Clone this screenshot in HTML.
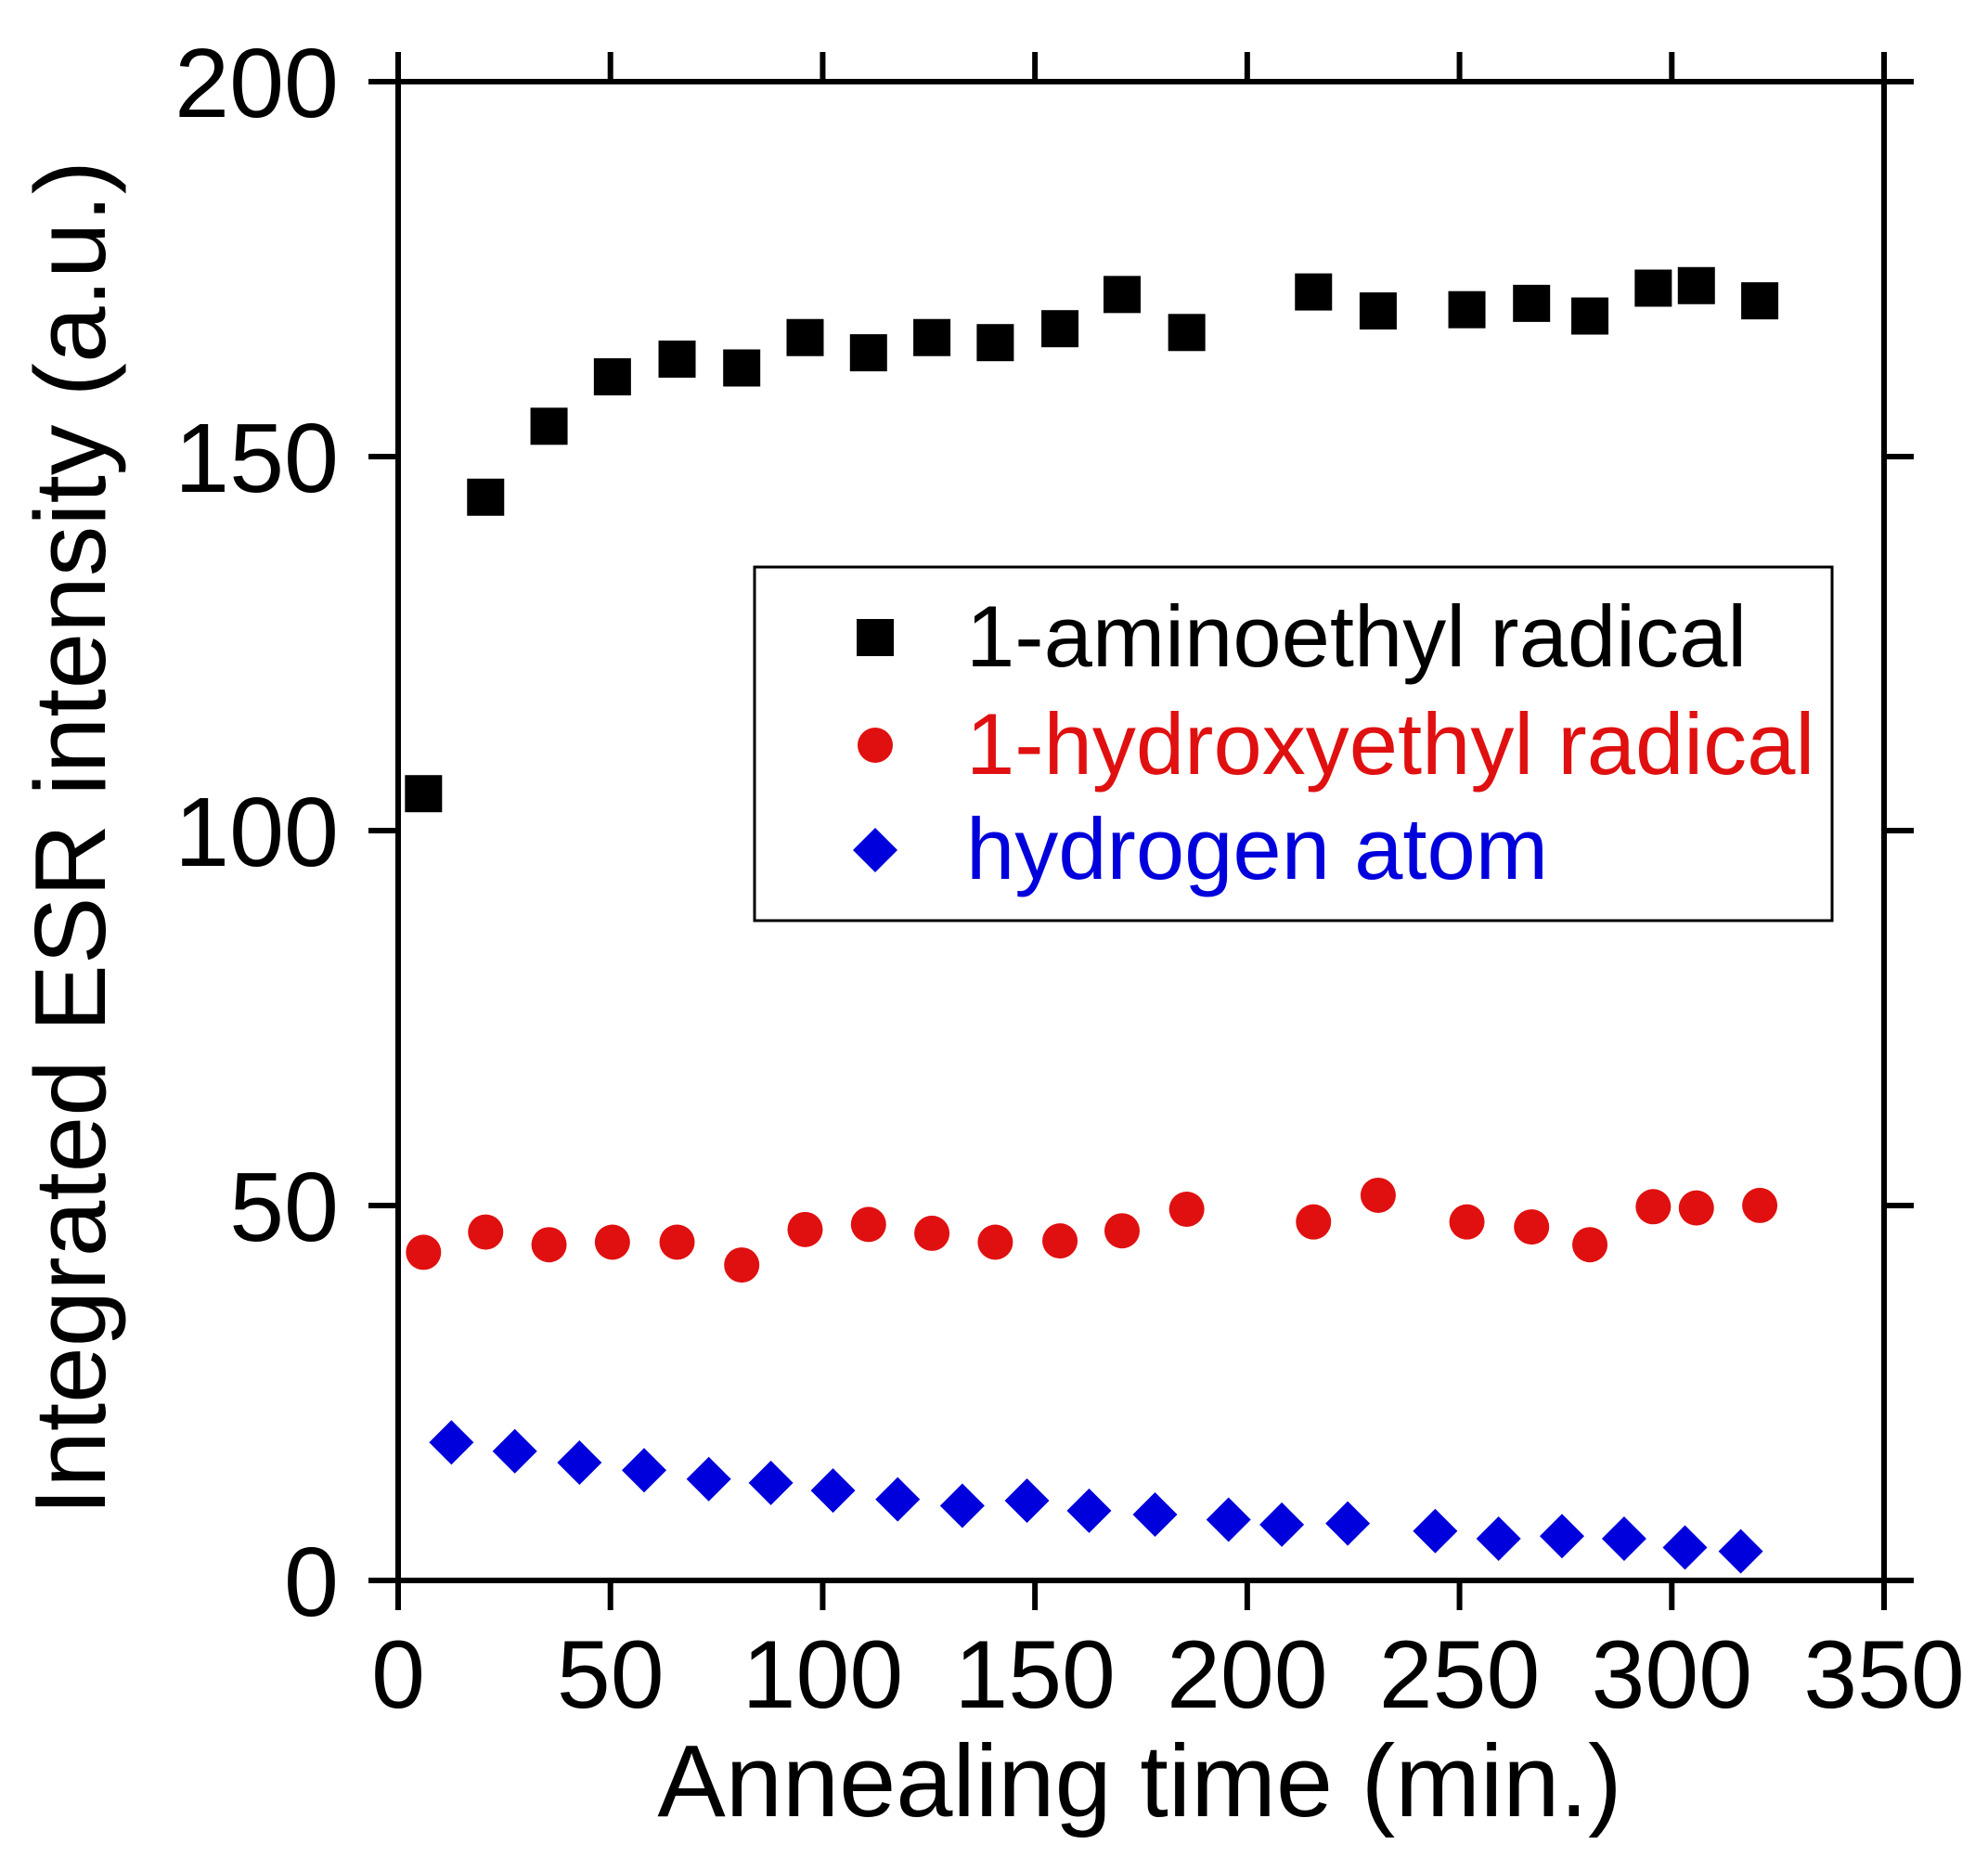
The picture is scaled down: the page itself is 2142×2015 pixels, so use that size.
<!DOCTYPE html>
<html><head><meta charset="utf-8"><style>html,body{margin:0;padding:0;background:#fff}svg{display:block}text{font-family:"Liberation Sans",Arial,sans-serif}</style></head>
<body>
<svg id="s" width="2142" height="2015" viewBox="0 0 2142 2015" xmlns="http://www.w3.org/2000/svg">
<rect width="2142" height="2015" fill="#fff"/>
<g stroke="#000" stroke-width="6" fill="none">
<rect x="429" y="88" width="1601" height="1615"/>
<line x1="397" y1="1703" x2="429" y2="1703"/><line x1="397" y1="1299" x2="429" y2="1299"/><line x1="397" y1="895" x2="429" y2="895"/><line x1="397" y1="492" x2="429" y2="492"/><line x1="397" y1="88" x2="429" y2="88"/>
<line x1="2030" y1="1703" x2="2062" y2="1703"/><line x1="2030" y1="1299" x2="2062" y2="1299"/><line x1="2030" y1="895" x2="2062" y2="895"/><line x1="2030" y1="492" x2="2062" y2="492"/><line x1="2030" y1="88" x2="2062" y2="88"/>
</g>
<g id="xt" stroke="#000" stroke-width="6"></g>
<g font-size="106" text-anchor="end" fill="#000">
<text x="365" y="1741">0</text><text x="365" y="1337">50</text><text x="365" y="933">100</text><text x="365" y="530">150</text><text x="365" y="126">200</text>
</g>
<g id="xl" font-size="104" text-anchor="middle" fill="#000"></g>
<text x="1228" y="1957" font-size="110" text-anchor="middle">Annealing time (min.)</text>
<text transform="translate(113,903) rotate(-90)" font-size="109" text-anchor="middle">Integrated ESR intensity (a.u.)</text>
<g id="pts"></g>
<rect x="813" y="611" width="1161" height="381" fill="#fff" stroke="#000" stroke-width="3"/>
<rect x="923" y="667" width="40" height="40" fill="#000"/>
<circle cx="943" cy="803" r="19" fill="#e01010"/>
<polygon points="943,892 967,916 943,940 919,916" fill="#0000dd"/>
<text x="1041" y="718" font-size="94" fill="#000">1-aminoethyl radical</text>
<text x="1041" y="834" font-size="94" fill="#e01010">1-hydroxyethyl radical</text>
<text x="1041" y="947" font-size="94" fill="#0000dd">hydrogen atom</text>
</svg>
<script>
var NS="http://www.w3.org/2000/svg";
function el(t,a,p){var e=document.createElementNS(NS,t);for(var k in a)e.setAttribute(k,a[k]);if(p)p.appendChild(e);return e;}
var xt=document.getElementById('xt'),xl=document.getElementById('xl');
for(var i=0;i<=7;i++){var x=429+i*1601/7;
el('line',{x1:x,y1:1703,x2:x,y2:1735},xt);el('line',{x1:x,y1:88,x2:x,y2:56},xt);
var t=el('text',{x:x,y:1840},xl);t.textContent=String(i*50);}
function X(d){return 429+(d-315)*1.366;}function Y(d){return 1703-(1246-d)*1.3652;}
var sq=[[335,625],[384,391],[434,335],[484,296],[535,282],[586,289],[636,265],[686,277],[736,265],[786,269],[837,258],[886,231],[937,261],[1037,229],[1088,244],[1158,243],[1209,238],[1255,248],[1305,226],[1339,224],[1389,236]];
var ci=[[335,987],[384,971],[434,981],[484,979],[535,979],[586,997],[636,969],[686,965],[736,972],[786,979],[837,978],[886,970],[937,953],[1037,963],[1088,942],[1158,963],[1209,967],[1255,981],[1305,951],[1339,952],[1389,950]];
var di=[[357,1137],[407,1144],[458,1153],[509,1159],[560,1166],[609,1169],[658,1175],[709,1182],[760,1187],[811,1183],[860,1191],[912,1194],[970,1198],[1012,1202],[1064,1201],[1133,1207],[1183,1213],[1233,1211],[1282,1213],[1330,1220],[1374,1223]];
var g=document.getElementById('pts');
sq.forEach(function(p){var x=X(p[0]),y=Y(p[1]);el('rect',{x:x-20,y:y-20,width:40,height:40,fill:'#000'},g);});
ci.forEach(function(p){el('circle',{cx:X(p[0]),cy:Y(p[1]),r:19,fill:'#e01010'},g);});
di.forEach(function(p){var x=X(p[0]),y=Y(p[1]);el('polygon',{points:x+','+(y-24)+' '+(x+24)+','+y+' '+x+','+(y+24)+' '+(x-24)+','+y,fill:'#0000dd'},g);});
</script>
</body></html>
